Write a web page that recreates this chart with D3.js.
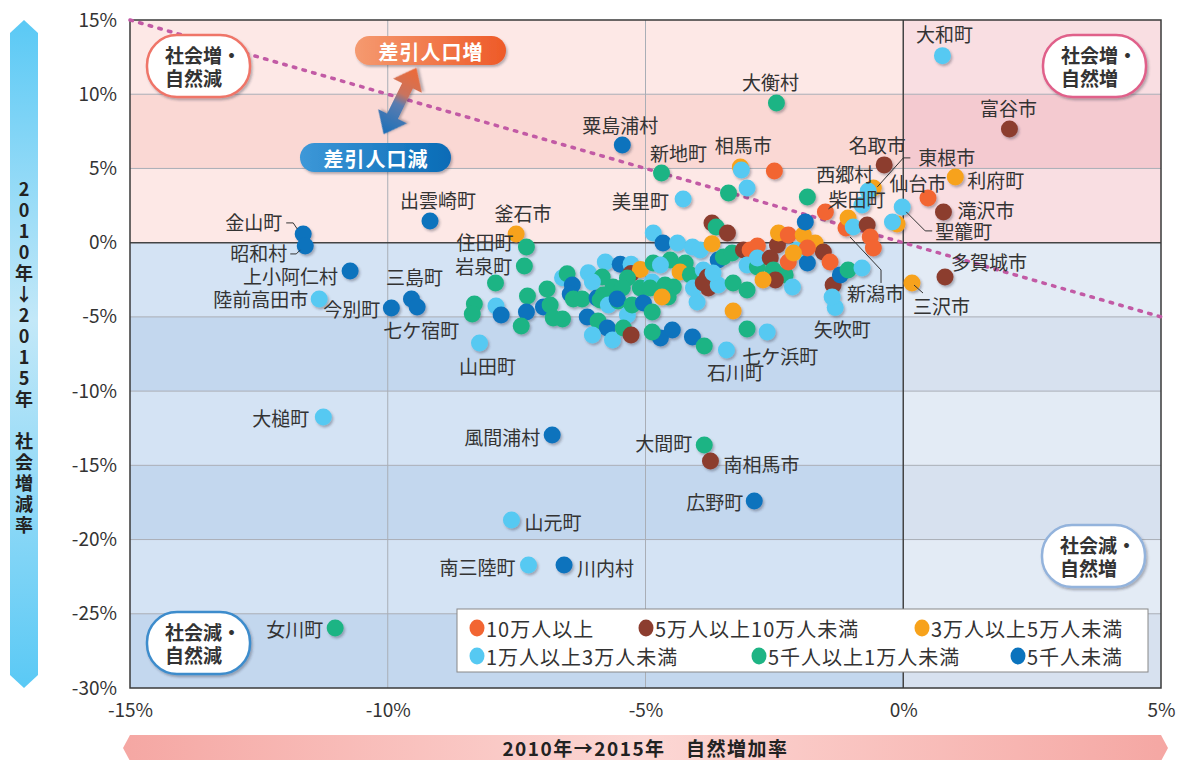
<!DOCTYPE html>
<html>
<head>
<meta charset="utf-8">
<script src="https://cdn.jsdelivr.net/npm/d3@7"></script>
<style>
  body { margin: 0; background: #fff; }
  text { font-family: "Noto Sans CJK JP", "Noto Sans", sans-serif; }
</style>
</head>
<body>
<div id="chart"></div>
<script>
// size classes (legend order) and their dot colours
const sizeClasses = ['10万人以上', '5万人以上10万人未満', '3万人以上5万人未満',
  '1万人以上3万人未満', '5千人以上1万人未満', '5千人未満'];
const classColors = ['#f26532', '#8c3d2f', '#f7a21b', '#56c9f2', '#1eb484', '#0b73bd'];

const xTicks = [-15, -10, -5, 0, 5];
const yTicks = [15, 10, 5, 0, -5, -10, -15, -20, -25, -30];

// [name, natural increase %, social increase %, size class]
const namedTowns = [
  ['富谷市', 2.06, 7.66, 1],
  ['大衡村', -2.46, 9.41, 4],
  ['粟島浦村', -5.45, 6.58, 5],
  ['新地町', -4.69, 4.70, 4],
  ['相馬市', -3.16, 5.10, 2],
  ['美里町', -4.27, 2.94, 3],
  ['出雲崎町', -9.18, 1.46, 5],
  ['釜石市', -7.51, 0.59, 2],
  ['住田町', -7.31, -0.29, 4],
  ['岩泉町', -7.35, -1.57, 4],
  ['金山町', -11.64, 0.59, 5],
  ['昭和村', -11.60, -0.22, 5],
  ['上小阿仁村', -10.73, -1.91, 5],
  ['陸前高田市', -11.33, -3.79, 3],
  ['今別町', -9.93, -4.40, 5],
  ['三島町', -9.54, -3.79, 5],
  ['七ケ宿町', -9.43, -4.33, 5],
  ['山田町', -8.22, -6.76, 3],
  ['大槌町', -11.25, -11.75, 3],
  ['風間浦村', -6.81, -12.96, 5],
  ['大間町', -3.86, -13.63, 4],
  ['南相馬市', -3.74, -14.71, 1],
  ['広野町', -2.89, -17.41, 5],
  ['山元町', -7.60, -18.69, 3],
  ['南三陸町', -7.27, -21.72, 3],
  ['川内村', -6.58, -21.72, 5],
  ['女川町', -11.02, -25.96, 4],
  ['大和町', 0.76, 12.6, 3],
  ['名取市', -0.37, 5.24, 1],
  ['東根市', -0.58, 3.69, 2],
  ['西郷村', -0.68, 3.48, 3],
  ['柴田町', -1.51, 2.07, 0],
  ['仙台市', 0.48, 3.01, 0],
  ['利府町', 1.01, 4.43, 2],
  ['滝沢市', 0.78, 2.07, 1],
  ['聖籠町', -0.02, 2.41, 3],
  ['多賀城市', 0.81, -2.31, 1],
  ['三沢市', 0.17, -2.72, 2],
  ['新潟市', -1.11, 0.99, 0],
  ['矢吹町', -1.32, -4.36, 3],
  ['七ケ浜町', -2.64, -6.02, 3],
  ['石川町', -3.43, -7.23, 3]
];

// unlabeled municipalities: [natural %, social %, size class]
const otherTowns = [
  [-7.91, -2.72, 4], [-8.32, -4.13, 4], [-8.36, -4.80, 4], [-7.90, -4.27, 3], [-7.80, -4.87, 5],
  [-7.29, -3.59, 4], [-7.31, -4.67, 5], [-7.41, -5.61, 4], [-6.91, -3.12, 4], [-6.98, -4.33, 5],
  [-6.85, -4.20, 4], [-6.79, -5.07, 4], [-6.61, -5.14, 4], [-6.61, -2.37, 3], [-6.52, -2.10, 4],
  [-6.42, -2.85, 5], [-6.46, -3.46, 5], [-6.40, -3.79, 4], [-6.23, -3.79, 4], [-6.11, -2.03, 3],
  [-5.78, -1.30, 3], [-5.84, -2.31, 4], [-6.03, -2.65, 3], [-5.94, -3.73, 5], [-5.88, -3.86, 4],
  [-5.63, -2.99, 4], [-5.82, -3.52, 4], [-5.72, -4.20, 3], [-5.53, -3.93, 4], [-5.49, -1.46, 5],
  [-5.28, -1.46, 3], [-5.28, -2.07, 1], [-5.10, -1.80, 2], [-5.35, -2.38, 4], [-5.45, -3.05, 4],
  [-5.55, -3.79, 5], [-5.35, -4.87, 3], [-5.26, -4.20, 4], [-5.10, -3.05, 4], [-4.85, -1.37, 4],
  [-4.52, -1.17, 4], [-5.04, -4.06, 5], [-4.87, -4.67, 4], [-6.13, -5.00, 5], [-5.92, -5.28, 4],
  [-5.74, -5.75, 5], [-6.03, -6.22, 3], [-5.64, -6.56, 3], [-5.43, -5.75, 4], [-5.28, -6.22, 1],
  [-4.71, -6.42, 5], [-4.87, -6.02, 4], [-4.48, -5.88, 5], [-4.85, 0.65, 3], [-4.66, -0.02, 5],
  [-4.38, -0.02, 3], [-4.09, -0.29, 3], [-3.94, -0.49, 3], [-4.71, -1.51, 3], [-4.23, -1.37, 4],
  [-4.33, -1.97, 2], [-4.13, -2.17, 4], [-3.88, -1.84, 3], [-4.87, -2.65, 3], [-4.91, -3.05, 4],
  [-4.62, -2.85, 4], [-4.46, -2.99, 4], [-4.56, -3.66, 4], [-4.68, -3.66, 2], [-4.00, -4.00, 3],
  [-3.80, -2.31, 1], [-3.78, -3.05, 1], [-4.07, -3.05, 3], [-3.30, -4.60, 2], [-4.09, -6.36, 5],
  [-3.86, -6.96, 4], [-3.03, -5.82, 4], [-3.71, 1.33, 1], [-3.63, 1.06, 4], [-3.41, 0.65, 1],
  [-3.71, -0.08, 2], [-3.59, -1.17, 5], [-3.49, -0.96, 4], [-3.32, -0.69, 4], [-3.88, -2.72, 1],
  [-3.59, -2.85, 3], [-3.30, -2.72, 4], [-3.03, -3.19, 4], [-3.69, -2.04, 3], [-3.10, -0.49, 1],
  [-2.97, -0.49, 0], [-2.83, -0.22, 0], [-3.03, -1.50, 3], [-2.83, -1.64, 4], [-2.83, -1.03, 3],
  [-2.58, -1.03, 1], [-2.44, -0.16, 1], [-2.42, 0.65, 2], [-2.23, 0.52, 0], [-2.52, -1.84, 4],
  [-2.29, -2.17, 4], [-2.48, -2.51, 1], [-2.72, -2.51, 2], [-2.15, -2.99, 3], [-2.23, -1.30, 0],
  [-2.06, -0.49, 3], [-1.86, -1.37, 5], [-1.94, 0.52, 2], [-1.71, -0.02, 2], [-1.55, -0.63, 1],
  [-1.42, -1.30, 0], [-1.86, -0.36, 0], [-1.90, 1.39, 5], [-1.07, 1.66, 2], [-0.97, 1.06, 3],
  [-0.70, 1.19, 1], [-0.64, 0.38, 0], [-0.58, -0.36, 0], [-0.12, 1.25, 2], [-0.21, 1.39, 3],
  [-1.36, -2.85, 1], [-1.38, -3.66, 3], [-1.22, -2.17, 5], [-1.07, -1.84, 4], [-0.80, -1.71, 3],
  [-2.50, 4.83, 0], [-3.03, 3.69, 3], [-3.39, 3.35, 4], [-1.86, 3.08, 4], [-3.14, 4.90, 3],
  [-0.80, 2.54, 3], [-2.13, -0.69, 2]
];

// label placement relative to the dot: [dx, dy, anchor]
const labelPlace = {
  '大和町': [2, -22, 'middle'], '富谷市': [-1, -21, 'middle'], '大衡村': [-6, -21, 'middle'],
  '粟島浦村': [-2, -20, 'middle'], '新地町': [17, -20, 'middle'], '相馬市': [3, -22, 'middle'],
  '美里町': [-14, 1, 'end'], '出雲崎町': [8, -21, 'middle'], '釜石市': [7, -21, 'middle'],
  '住田町': [-13, -5, 'end'], '岩泉町': [-12, 0, 'end'], '金山町': [-21, -12, 'end'],
  '昭和村': [-18, 7, 'end'], '上小阿仁村': [-12, 4, 'end'], '陸前高田市': [-11, 0, 'end'],
  '今別町': [-11, 1, 'end'], '三島町': [3, -22, 'middle'], '七ケ宿町': [4, 23, 'middle'],
  '山田町': [8, 22, 'middle'], '大槌町': [-14, 0, 'end'], '風間浦村': [-12, 1, 'end'],
  '大間町': [-12, -2, 'end'], '南相馬市': [13, 2, 'start'], '広野町': [-11, 0, 'end'],
  '山元町': [13, 1, 'start'], '南三陸町': [-13, 1, 'end'], '川内村': [13, 2, 'start'],
  '女川町': [-12, 0, 'end'], '名取市': [-7, -20, 'middle'], '東根市': [45, -31, 'start'],
  '西郷村': [5, -18, 'end'], '柴田町': [3, -13, 'start'], '仙台市': [-10, -15, 'middle'],
  '利府町': [12, 3, 'start'], '滝沢市': [14, -2, 'start'], '聖籠町': [33, 24, 'start'],
  '多賀城市': [44, -15, 'middle'], '三沢市': [1, 22, 'start'], '新潟市': [1, 65, 'start'],
  '矢吹町': [7, 21, 'middle'], '七ケ浜町': [13, 23, 'middle'], '石川町': [9, 22, 'middle']
};
// leader lines relative to the dot
const leaders = {
  '金山町': [[-17, -11], [-10, -11], [-6, -5]],
  '昭和村': [[-15, 8], [-9, 8], [-5, 4]],
  '東根市': [[4, -1], [30, -30], [37, -30]],
  '柴田町': [[3, -3], [7, -6]],
  '聖籠町': [[4, 5], [23, 24], [30, 24]],
  '三沢市': [[2, 2], [11, 10]],
  '新潟市': [[4, 9], [35, 42], [35, 55]]
};

const W = 1197, H = 760;
const margin = { top: 20, right: 36, bottom: 72, left: 130 };
const x = d3.scaleLinear().domain([-15, 5]).range([margin.left, W - margin.right]);
const y = d3.scaleLinear().domain([-30, 15]).range([H - margin.bottom, margin.top]);

const svg = d3.select('#chart').append('svg').attr('width', W).attr('height', H);
const defs = svg.append('defs');

const shadow = defs.append('filter').attr('id', 'shadow')
  .attr('x', '-30%').attr('y', '-30%').attr('width', '170%').attr('height', '170%');
shadow.append('feDropShadow').attr('dx', 1.5).attr('dy', 2).attr('stdDeviation', 1.2)
  .attr('flood-color', '#334').attr('flood-opacity', 0.35);

function linGrad(id, stops, vertical) {
  const g = defs.append('linearGradient').attr('id', id)
    .attr('x1', 0).attr('y1', 0).attr('x2', vertical ? 0 : 1).attr('y2', vertical ? 1 : 0);
  stops.forEach(s => g.append('stop').attr('offset', s[0]).attr('stop-color', s[1]));
}
linGrad('gUp', [[0, '#f59a70'], [1, '#ee5a28']]);
linGrad('gDown', [[0, '#3d98d8'], [1, '#0a6bb6']]);
linGrad('gArrow', [[0, '#1a6fb8'], [0.45, '#5a7cb0'], [0.6, '#c9735e'], [1, '#ef6a36']]);
linGrad('gLeft', [[0, '#5ac9f5'], [0.45, '#c3e8f8'], [1, '#5ac9f5']], true);
linGrad('gBottom', [[0, '#f5a7a3'], [0.5, '#fcd7d4'], [1, '#f5a7a3']]);

// ---------- background bands ----------
const bandColors = {
  left: { up: ['#fde8e6', '#fad8d4'], down: ['#d4e3f4', '#c3d7ee'] },
  right: { up: ['#f9dee2', '#f4cad0'], down: ['#e3ebf5', '#d7e1ef'] }
};
const sides = [['left', -15, 0], ['right', 0, 5]];
const bands = svg.append('g');
for (let i = 0; i < yTicks.length - 1; i++) {
  const top = yTicks[i], bot = yTicks[i + 1];
  sides.forEach(([side, x0, x1]) => {
    const pal = top > 0 ? bandColors[side].up : bandColors[side].down;
    const idx = top > 0 ? i % 2 : (i - 3) % 2;
    bands.append('rect')
      .attr('x', x(x0)).attr('y', y(top))
      .attr('width', x(x1) - x(x0)).attr('height', y(bot) - y(top))
      .attr('fill', pal[idx]);
  });
}

// grid
const grid = svg.append('g');
grid.selectAll('.gx').data(xTicks.filter(d => d !== 0 && d > -15 && d < 5)).join('line')
  .attr('x1', d => x(d)).attr('x2', d => x(d)).attr('y1', y(15)).attr('y2', y(-30))
  .attr('stroke', '#a9aeb6').attr('stroke-width', 1);
grid.selectAll('.gy').data(yTicks.filter(d => d !== 0 && d < 15 && d > -30)).join('line')
  .attr('y1', d => y(d)).attr('y2', d => y(d)).attr('x1', x(-15)).attr('x2', x(5))
  .attr('stroke', '#a9aeb6').attr('stroke-width', 1);
grid.append('line').attr('x1', x(0)).attr('x2', x(0)).attr('y1', y(15)).attr('y2', y(-30))
  .attr('stroke', '#444').attr('stroke-width', 1.5);
grid.append('line').attr('y1', y(0)).attr('y2', y(0)).attr('x1', x(-15)).attr('x2', x(5))
  .attr('stroke', '#444').attr('stroke-width', 1.5);
grid.append('rect').attr('x', x(-15)).attr('y', y(15))
  .attr('width', x(5) - x(-15)).attr('height', y(-30) - y(15))
  .attr('fill', 'none').attr('stroke', '#3a3a3a').attr('stroke-width', 1.5);

// zero total-change line (natural + social = 0)
svg.append('path')
  .datum([[-15, 15], [5, -5]])
  .attr('d', d3.line().x(d => x(d[0])).y(d => y(d[1])))
  .attr('fill', 'none').attr('stroke', '#c25aa5').attr('stroke-width', 3.5)
  .attr('stroke-linecap', 'round').attr('stroke-dasharray', '2.5 7.5');

// ---------- axes ----------
const yAxis = svg.append('g').attr('transform', `translate(${margin.left},0)`)
  .call(d3.axisLeft(y).tickValues(yTicks).tickSize(0).tickPadding(13).tickFormat(d => d + '%'));
const xAxis = svg.append('g').attr('transform', `translate(0,${H - margin.bottom})`)
  .call(d3.axisBottom(x).tickValues(xTicks).tickSize(0).tickPadding(16).tickFormat(d => d + '%'));
[yAxis, xAxis].forEach(a => {
  a.select('.domain').remove();
  a.selectAll('text').attr('font-size', 19).attr('fill', '#333')
    .style('font-family', '"Noto Sans CJK JP", sans-serif');
});

// ---------- dots ----------
const dots = svg.append('g').attr('filter', 'url(#shadow)');
dots.selectAll('.named').data(namedTowns).join('circle')
  .attr('cx', d => x(d[1])).attr('cy', d => y(d[2])).attr('r', 8.5)
  .attr('fill', d => classColors[d[3]]);
dots.selectAll('.other').data(otherTowns).join('circle')
  .attr('cx', d => x(d[0])).attr('cy', d => y(d[1])).attr('r', 8.5)
  .attr('fill', d => classColors[d[2]]);

// ---------- labels ----------
const labels = svg.append('g');
namedTowns.forEach(d => {
  const cx = x(d[1]), cy = y(d[2]);
  const p = labelPlace[d[0]];
  if (leaders[d[0]]) {
    labels.append('polyline')
      .attr('points', leaders[d[0]].map(q => [cx + q[0], cy + q[1]]).join(' '))
      .attr('fill', 'none').attr('stroke', '#333').attr('stroke-width', 1);
  }
  labels.append('text')
    .attr('x', cx + p[0]).attr('y', cy + p[1])
    .attr('text-anchor', p[2]).attr('dominant-baseline', 'central')
    .attr('font-size', 19).attr('fill', '#333')
    .text(d[0]);
});

// ---------- quadrant bubbles ----------
const bubbles = [
  { lines: ['社会増・', '自然減'], x: 147, y: 35, stroke: '#ef7468' },
  { lines: ['社会増・', '自然増'], x: 1043, y: 35, stroke: '#e0608a' },
  { lines: ['社会減・', '自然増'], x: 1042, y: 525, stroke: '#93b3dc' },
  { lines: ['社会減・', '自然減'], x: 147, y: 612, stroke: '#3d8ccc' }
];
bubbles.forEach(b => {
  const g = svg.append('g').attr('transform', `translate(${b.x},${b.y})`);
  g.append('rect').attr('width', 103).attr('height', 62).attr('rx', 30)
    .attr('fill', '#fff').attr('stroke', b.stroke).attr('stroke-width', 2.5)
    .attr('filter', 'url(#shadow)');
  const t = g.append('text').attr('font-size', 19).attr('font-weight', 'bold').attr('fill', '#333');
  b.lines.forEach((line, i) => t.append('tspan')
    .attr('x', 18).attr('y', 28 + i * 23).text(line));
});

// ---------- 差引人口 pills + arrow ----------
const pills = [
  { text: '差引人口増', x: 355, y: 36, fill: 'url(#gUp)' },
  { text: '差引人口減', x: 300, y: 143, fill: 'url(#gDown)' }
];
pills.forEach(p => {
  const g = svg.append('g').attr('transform', `translate(${p.x},${p.y})`);
  g.append('rect').attr('width', 151).attr('height', 29).attr('rx', 14.5)
    .attr('fill', p.fill).attr('filter', 'url(#shadow)');
  g.append('text').attr('x', 76).attr('y', 15).attr('text-anchor', 'middle')
    .attr('dominant-baseline', 'central').attr('font-size', 20).attr('font-weight', 'bold')
    .attr('letter-spacing', 1).attr('fill', '#fff').text(p.text);
});
const arrowAngle = Math.atan2(-65, 32) * 180 / Math.PI;
svg.append('g').attr('transform', `translate(400,101) rotate(${arrowAngle})`)
  .append('path')
  .attr('d', 'M37,0 L17,-16 L17,-6 L-17,-6 L-17,-16 L-37,0 L-17,16 L-17,6 L17,6 L17,16 Z')
  .attr('fill', 'url(#gArrow)').attr('filter', 'url(#shadow)');

// ---------- legend ----------
const legend = svg.append('g').attr('transform', 'translate(457,609)');
legend.append('rect').attr('width', 691).attr('height', 63)
  .attr('fill', '#fff').attr('stroke', '#888').attr('stroke-width', 1);
const legendPos = [[20, 19], [189, 19], [465, 19], [20, 47], [302, 47], [561, 47]];
sizeClasses.forEach((c, i) => {
  const [lx, ly] = legendPos[i];
  legend.append('ellipse').attr('cx', lx).attr('cy', ly).attr('rx', 7.5).attr('ry', 8.5)
    .attr('fill', classColors[i]);
  legend.append('text').attr('x', lx + 9).attr('y', ly).attr('dominant-baseline', 'central')
    .attr('font-size', 20).attr('letter-spacing', 1).attr('fill', '#333').text(c);
});

// ---------- axis title bands ----------
svg.append('path')
  .attr('d', 'M24,20 L38,33 L38,675 L24,688 L10,675 L10,33 Z')
  .attr('fill', 'url(#gLeft)');
svg.append('text')
  .attr('x', 24).attr('y', 180)
  .style('writing-mode', 'vertical-rl').style('text-orientation', 'upright')
  .attr('font-size', 18).attr('letter-spacing', 3).attr('font-weight', 'bold').attr('fill', '#222')
  .text('2010年↓2015年　社会増減率');

svg.append('path')
  .attr('d', `M${x(-15) - 7},748 L${x(-15)},735 L${x(5)},735 L${x(5) + 7},748 L${x(5)},761 L${x(-15)},761 Z`)
  .attr('fill', 'url(#gBottom)');
svg.append('text').attr('x', (x(-15) + x(5)) / 2).attr('y', 747)
  .attr('text-anchor', 'middle').attr('dominant-baseline', 'central')
  .attr('font-size', 19).attr('letter-spacing', 1.5).attr('font-weight', 'bold').attr('fill', '#222')
  .text('2010年→2015年　自然増加率');
</script>
</body>
</html>
